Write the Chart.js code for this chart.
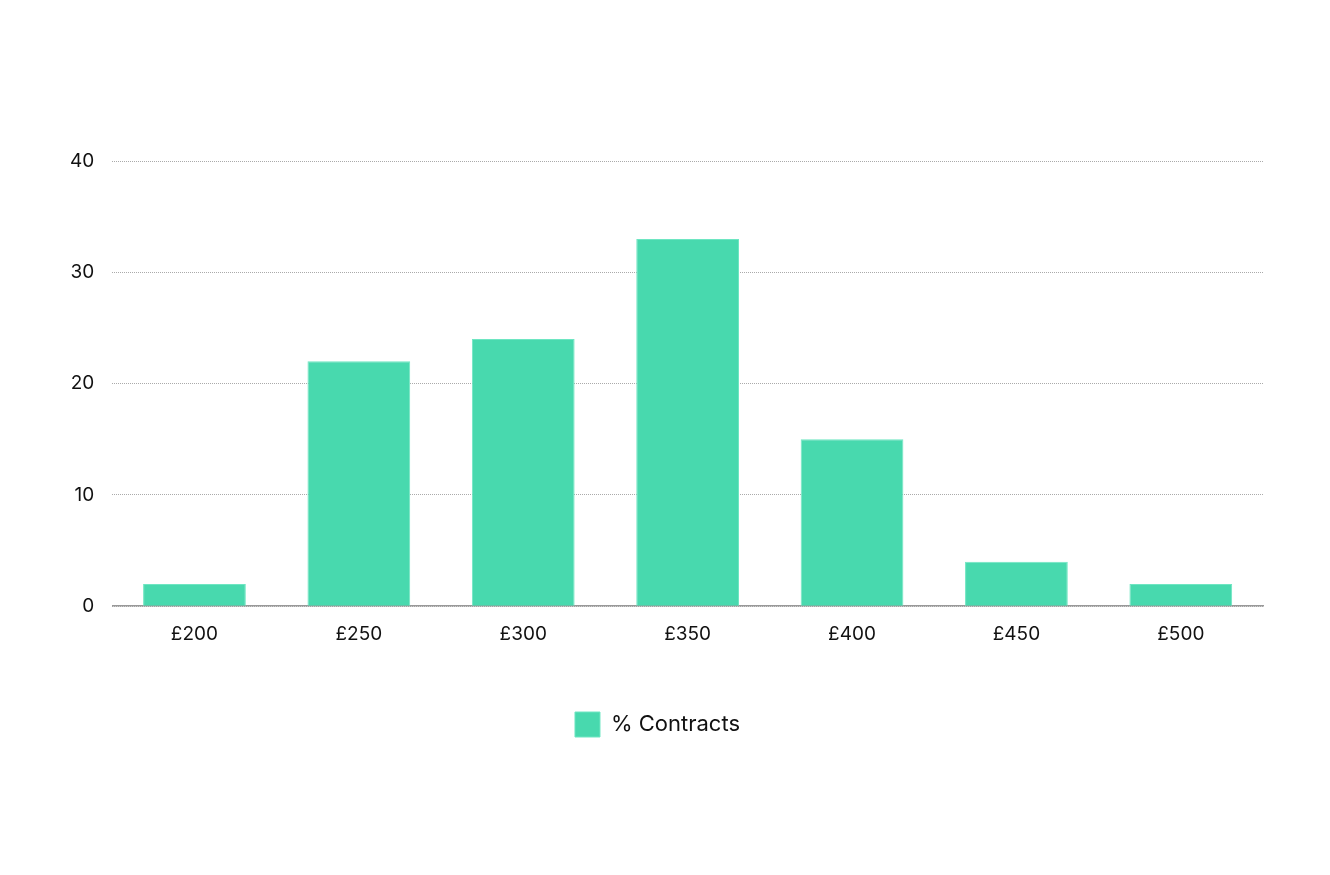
<!DOCTYPE html>
<html>
<head>
<meta charset="utf-8">
<script src="https://cdn.jsdelivr.net/npm/chart.js@4"></script>
<style>
  html, body { margin: 0; padding: 0; background: #fff; }
  #wrap { width: 1330px; height: 875px; }
</style>
</head>
<body>
<div id="wrap"><canvas id="chart" width="1330" height="875"></canvas></div>
<script>
const categories = ['£200', '£250', '£300', '£350', '£400', '£450', '£500'];
const contracts  = [2, 22, 24, 33, 15, 4, 2];
const yTicks     = [0, 10, 20, 30, 40];

Chart.defaults.font.family = 'Inter, "Noto Sans", sans-serif';
Chart.defaults.color = '#111';

new Chart(document.getElementById('chart'), {
  type: 'bar',
  data: {
    labels: categories,
    datasets: [{
      label: '% Contracts',
      data: contracts,
      backgroundColor: '#48d9ae',
      borderColor: '#6ee6c2',
      borderWidth: 1
    }]
  },
  options: {
    responsive: false,
    animation: false,
    layout: { padding: { top: 161, left: 52, right: 67, bottom: 128 } },
    datasets: { bar: { categoryPercentage: 1, barPercentage: 0.625 } },
    scales: {
      x: {
        grid: { display: false },
        border: { color: '#999', width: 1.5 },
        ticks: { font: { size: 19 }, padding: 9 }
      },
      y: {
        min: 0,
        max: 40,
        afterBuildTicks: axis => { axis.ticks = yTicks.map(v => ({ value: v })); },
        grid: { color: '#aaa', lineWidth: 1, drawTicks: false },
        border: { display: false, dash: [1, 1] },
        ticks: { font: { size: 19 }, padding: 18 }
      }
    },
    plugins: {
      tooltip: { enabled: false },
      legend: {
        position: 'bottom',
        labels: { font: { size: 22 }, boxWidth: 25, boxHeight: 25, padding: 57 }
      }
    }
  }
});
</script>
</body>
</html>
